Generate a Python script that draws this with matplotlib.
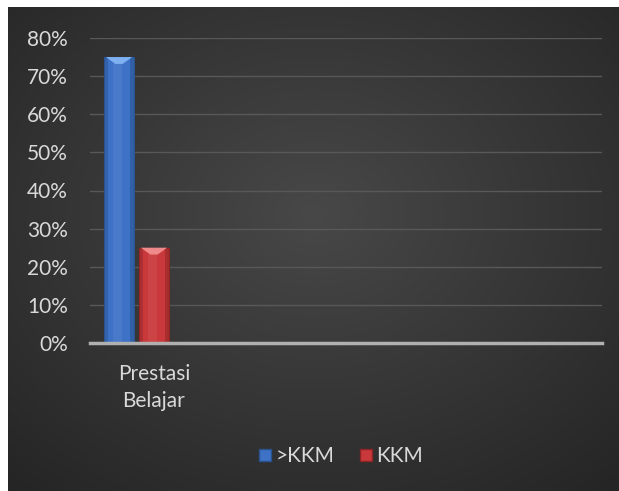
import numpy as np
import matplotlib
matplotlib.use("Agg")
import matplotlib.pyplot as plt
from matplotlib.patches import Polygon, Rectangle
from matplotlib.lines import Line2D

categories = ["Prestasi Belajar", "", "", ""]
series_names = [">KKM", "KKM"]
values_gt = [0.75, np.nan, np.nan, np.nan]
values_kkm = [0.25, np.nan, np.nan, np.nan]
yticks = [0, 0.1, 0.2, 0.3, 0.4, 0.5, 0.6, 0.7, 0.8]
ytick_labels = ["0%", "10%", "20%", "30%", "40%", "50%", "60%", "70%", "80%"]

colors = ["#3d72c6", "#c9393b"]
light = ["#7fb0f0", "#f08a8a"]
dark = ["#2a528f", "#8e2426"]

plt.rcParams['font.family'] = ['Lato', 'DejaVu Sans']

W, H = 619, 491
fig = plt.figure(figsize=(W / 100, H / 100), dpi=100)
fig.patch.set_facecolor("white")

# background radial gradient
bg = fig.add_axes([8 / W, 0, 1 - 8 / W, 1 - 7 / H])
bg.set_axis_off()
yy, xx = np.mgrid[0:200, 0:250]
cx, cy = 125, 85
r = np.sqrt(((xx - cx) / 250) ** 2 + ((yy - cy) / 200) ** 2) / 0.75
r = np.clip(r, 0, 1)
c0, c1 = np.array([0x48, 0x48, 0x48]) / 255, np.array([0x25, 0x25, 0x25]) / 255
img = c0[None, None, :] * (1 - r[..., None]) + c1[None, None, :] * r[..., None]
bg.imshow(img, aspect="auto", extent=[0, 1, 0, 1], interpolation="bilinear")
bg.set_xlim(0, 1)
bg.set_ylim(0, 1)

ax = fig.add_axes([90 / W, 1 - 343 / H, (602 - 90) / W, (343 - 38) / H])
ax.set_facecolor("none")
x = np.arange(len(categories))
width = 0.234
offsets = [-0.273, 0.0]
for i, vals in enumerate([values_gt, values_kkm]):
    bars = ax.bar(x + offsets[i], vals, width, color=colors[i], edgecolor=dark[i],
                  linewidth=0.8, zorder=3, label=series_names[i])
    for b in bars:
        h = b.get_height()
        if not np.isfinite(h) or h <= 0:
            continue
        x0, w = b.get_x(), b.get_width()
        ax.add_patch(Rectangle((x0, 0), w * 0.12, h, color=dark[i], alpha=0.45, lw=0, zorder=4))
        ax.add_patch(Rectangle((x0 + w * 0.88, 0), w * 0.12, h, color=dark[i], alpha=0.55, lw=0, zorder=4))
        ax.add_patch(Rectangle((x0 + w * 0.3, 0), w * 0.3, h, color="white", alpha=0.06, lw=0, zorder=4))
        th = 0.018
        ax.add_patch(Polygon([(x0 + w * 0.06, h), (x0 + w * 0.94, h), (x0 + w * 0.62, h - th),
                              (x0 + w * 0.38, h - th)],
                             closed=True, color=light[i], lw=0, zorder=5))

ax.set_xlim(-0.5, len(categories) - 0.5)
ax.set_ylim(0, 0.8)
ax.set_yticks(yticks)
ax.set_yticklabels(ytick_labels)
ax.set_xticks(x)
ax.set_xticklabels([c.replace(" ", "\n") for c in categories], linespacing=1.45)
ax.tick_params(axis="both", length=0, colors="#d9d9d9", labelsize=15)
ax.tick_params(axis="y", pad=16)
ax.tick_params(axis="x", pad=15)
ax.grid(axis="y", color="#585858", linewidth=1.0, zorder=0)
for s in ["top", "right", "left"]:
    ax.spines[s].set_visible(False)
ax.spines["bottom"].set_color("#b0b0b0")
ax.spines["bottom"].set_linewidth(2.5)
ax.spines["bottom"].set_zorder(6)

handles = [Line2D([], [], marker="s", linestyle="none", markersize=8.5,
                  markerfacecolor=colors[i], markeredgecolor=dark[i]) for i in range(2)]
leg = fig.legend(handles, series_names, loc="center", bbox_to_anchor=(341 / W, 1 - 456 / H),
                 ncol=2, frameon=False, fontsize=15, handlelength=0.6, handletextpad=0.2,
                 columnspacing=1.2)
for t in leg.get_texts():
    t.set_color("#d9d9d9")

fig.savefig("out.png", dpi=100, facecolor=fig.get_facecolor())
